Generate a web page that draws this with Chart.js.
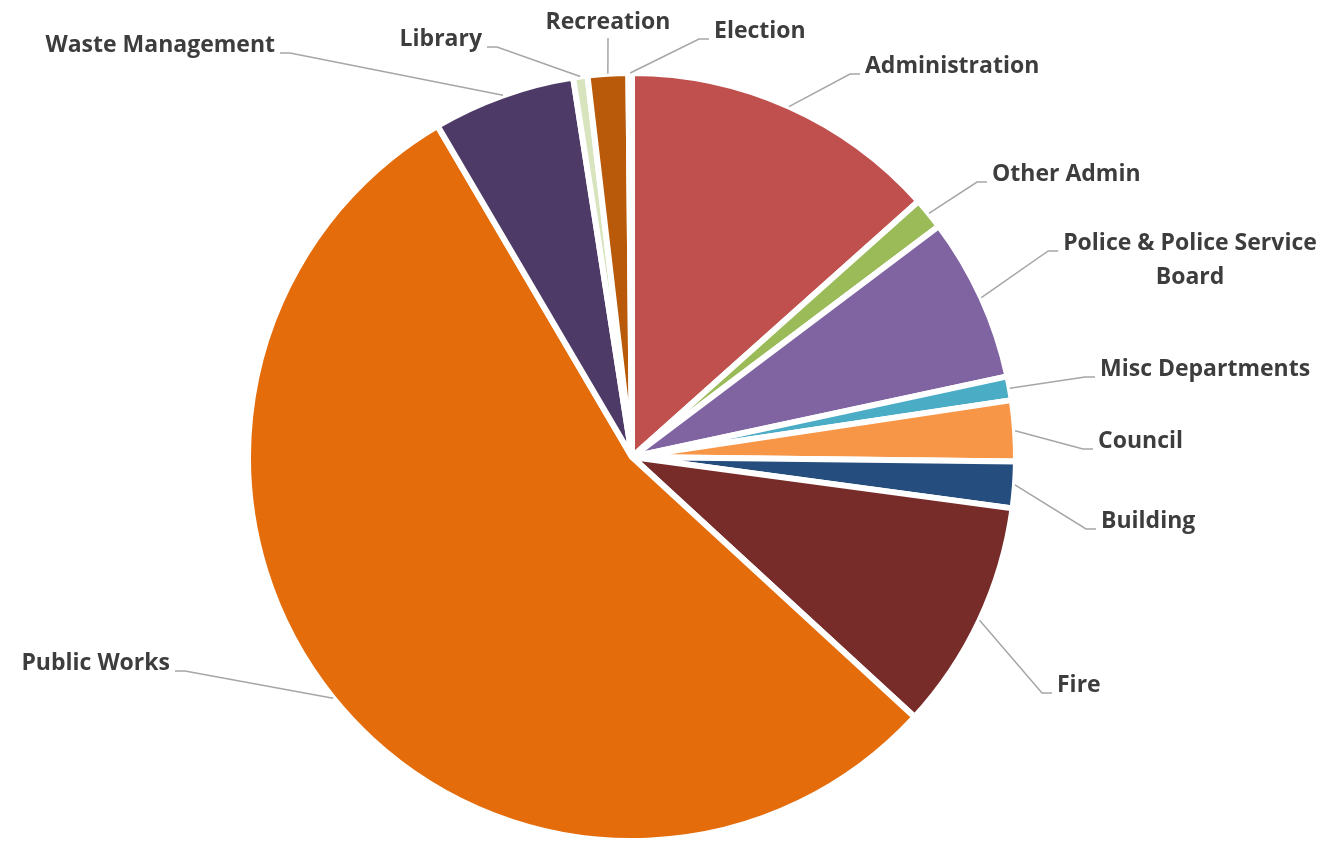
<!DOCTYPE html>
<html>
<head>
<meta charset="utf-8">
<script src="https://cdn.jsdelivr.net/npm/chart.js@4/dist/chart.umd.min.js"></script>
<style>
  html, body { margin: 0; padding: 0; background: #ffffff; }
  #wrap { width: 1329px; height: 845px; }
</style>
</head>
<body>
<div id="wrap"><canvas id="budgetPie" width="1329" height="845"></canvas></div>
<script>
// Departments, clockwise from 12 o'clock
const departments = [
    'Administration', 'Other Admin', 'Police & Police Service Board', 'Misc Departments',
    'Council', 'Building', 'Fire', 'Public Works', 'Waste Management', 'Library',
    'Recreation', 'Election'
];
// Share of budget (%)
const shares = [13.4, 1.33, 6.9, 1.0, 2.55, 1.95, 9.7, 54.7, 6.0, 0.6, 1.7, 0.15];
const sliceColors = [
    '#c0504d', '#9bbb59', '#8064a2', '#4bacc6', '#f79646', '#254e7e',
    '#772c2a', '#e46c0a', '#4e3a66', '#d7e4bd', '#b95a0b', '#f2f2f2'
];

// where each callout text sits (layout only)
const labelLayout = [
    { x: 865, y: 66, align: 'left' },
    { x: 992, y: 174, align: 'left' },
    { x: 1190, y: 243, align: 'center', lines: ['Police & Police Service', 'Board'] },
    { x: 1100, y: 369, align: 'left' },
    { x: 1098, y: 441, align: 'left' },
    { x: 1101, y: 521, align: 'left' },
    { x: 1057, y: 685, align: 'left' },
    { x: 170, y: 663, align: 'right' },
    { x: 275, y: 45, align: 'right' },
    { x: 482, y: 39, align: 'right' },
    { x: 608, y: 22, align: 'center' },
    { x: 714, y: 31, align: 'left' }
];

const LABEL_FONT = 'bold 23px "Open Sans", Lato, sans-serif';
const LINE_HEIGHT = 34;

const calloutPlugin = {
    id: 'callouts',
    afterDatasetsDraw(chart) {
        const ctx = chart.ctx;
        const meta = chart.getDatasetMeta(0);
        ctx.save();
        ctx.font = LABEL_FONT;
        ctx.textBaseline = 'middle';
        meta.data.forEach((arc, i) => {
            const p = arc.getProps(['x', 'y', 'startAngle', 'endAngle', 'outerRadius'], true);
            const mid = (p.startAngle + p.endAngle) / 2;
            const ax = p.x + Math.cos(mid) * p.outerRadius;
            const ay = p.y + Math.sin(mid) * p.outerRadius;
            const lay = labelLayout[i];
            const lines = lay.lines || [departments[i]];

            // leader line
            ctx.strokeStyle = '#a6a6a6';
            ctx.lineWidth = 1.5;
            ctx.beginPath();
            if (lay.align === 'center' && !lay.lines) {
                ctx.moveTo(lay.x, lay.y + 16);
                ctx.lineTo(ax, ay);
            } else {
                let edge = lay.x;
                let dir = -1;
                if (lay.align === 'right') { dir = 1; }
                if (lay.align === 'center') { edge = lay.x - ctx.measureText(lines[0]).width / 2; }
                const sy = lay.y + 8;
                ctx.moveTo(edge + dir * 5, sy);
                ctx.lineTo(edge + dir * 15, sy);
                ctx.lineTo(ax, ay);
            }
            ctx.stroke();

            // text
            ctx.fillStyle = '#3d3d3d';
            ctx.textAlign = lay.align;
            lines.forEach((ln, k) => ctx.fillText(ln, lay.x, lay.y + k * LINE_HEIGHT));
        });
        ctx.restore();
    }
};

new Chart(document.getElementById('budgetPie').getContext('2d'), {
    type: 'pie',
    data: {
        labels: departments,
        datasets: [{
            data: shares,
            backgroundColor: sliceColors,
            borderColor: '#ffffff',
            borderWidth: 6
        }]
    },
    options: {
        responsive: false,
        animation: false,
        layout: { padding: { left: 245, right: 310, top: 70, bottom: 1 } },
        plugins: {
            legend: { display: false },
            tooltip: { enabled: false }
        }
    },
    plugins: [calloutPlugin]
});
</script>
</body>
</html>
